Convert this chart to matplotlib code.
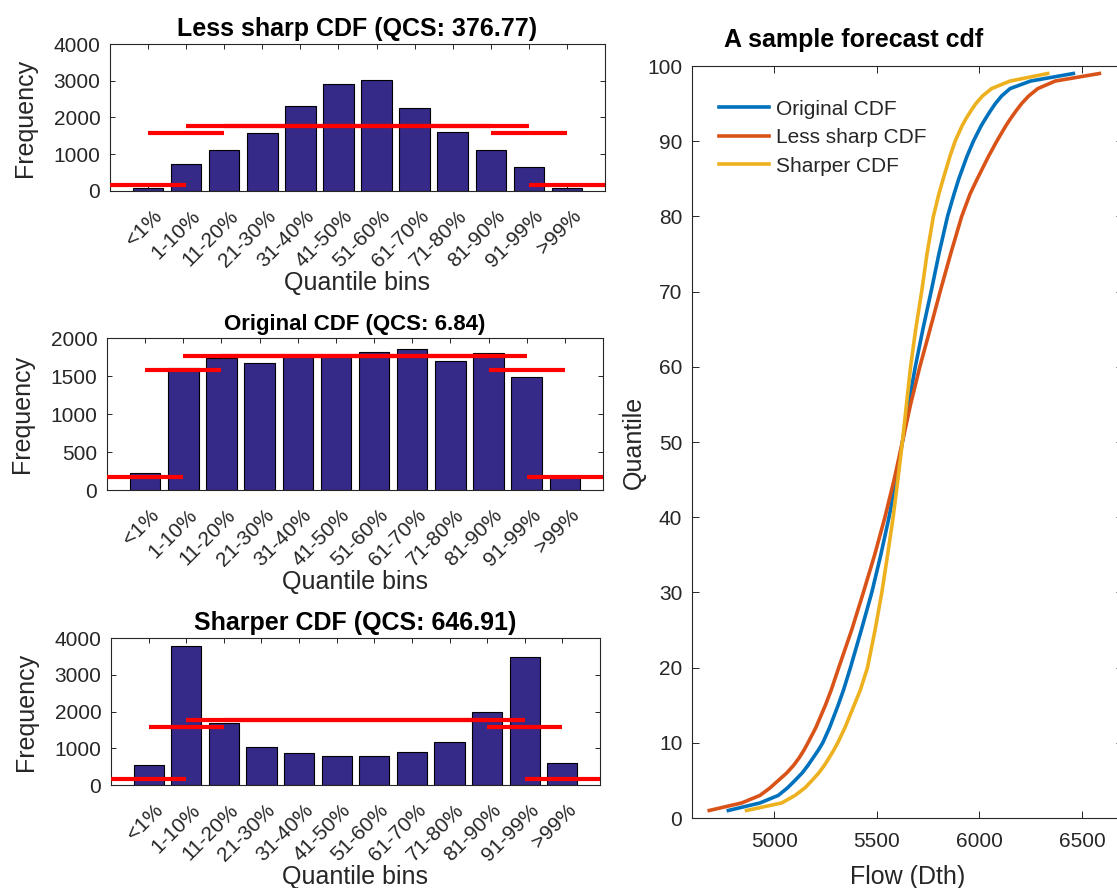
import numpy as np
import matplotlib
matplotlib.use('Agg')
import matplotlib.pyplot as plt
import matplotlib.transforms as mtransforms

plt.rcParams['font.family'] = ['Liberation Sans', 'DejaVu Sans']
plt.rcParams['text.color'] = '#262626'
plt.rcParams['axes.labelcolor'] = '#262626'

# ---- data ----
bins = ['<1%', '1-10%', '11-20%', '21-30%', '31-40%', '41-50%',
        '51-60%', '61-70%', '71-80%', '81-90%', '91-99%', '>99%']
less_sharp = [95, 740, 1120, 1590, 2325, 2920, 3020, 2260, 1610, 1120, 660, 90]
original = [223, 1610, 1740, 1672, 1750, 1745, 1812, 1860, 1694, 1799, 1492, 168]
sharper = [535, 3773, 1700, 1043, 862, 798, 780, 889, 1179, 1995, 3474, 608]
expected = [176, 1581, 1757, 1757, 1757, 1757, 1757, 1757, 1757, 1757, 1581, 176]

quantiles = [1, 2, 3, 4, 5, 6, 7, 8, 9, 10, 12, 15, 17, 20, 25, 30, 35, 40, 45, 50,
             55, 60, 65, 70, 75, 80, 83, 85, 88, 90, 92, 93, 94, 95, 96, 97, 98, 99]
flow_original = [4777, 4931, 5020, 5065, 5102, 5137, 5165, 5190, 5215, 5237, 5270, 5312, 5338, 5372,
                 5425, 5476, 5520, 5560, 5595, 5625, 5655, 5688, 5725, 5765, 5803, 5845, 5877, 5900,
                 5940, 5971, 6008, 6030, 6053, 6078, 6108, 6150, 6250, 6458]
flow_less = [4684, 4842, 4931, 4980, 5021, 5062, 5095, 5122, 5145, 5165, 5203, 5250, 5278, 5315,
             5378, 5435, 5490, 5540, 5585, 5625, 5665, 5710, 5760, 5809, 5860, 5914, 5955, 5990,
             6045, 6085, 6128, 6152, 6178, 6206, 6240, 6285, 6370, 6585]
flow_sharper = [4866, 5037, 5102, 5150, 5185, 5218, 5245, 5268, 5290, 5310, 5345, 5390, 5420, 5455,
                5492, 5525, 5553, 5580, 5603, 5625, 5645, 5665, 5690, 5719, 5745, 5776, 5803, 5824,
                5857, 5882, 5915, 5935, 5958, 5983, 6015, 6060, 6150, 6333]

W, H = 1117, 888
fig = plt.figure(figsize=(W / 100, H / 100), dpi=100)


def rect(l, t, r, b):
    return [l / W, 1 - b / H, (r - l) / W, (b - t) / H]


bar_color = '#352a87'
gray = '#262626'
pos = np.arange(1, len(bins) + 1)


def bar_panel(r, counts, title, ymax, ystep, tsize):
    ax = fig.add_axes(r)
    ax.bar(pos, counts, width=0.8, color=bar_color, edgecolor='black', linewidth=0.8, zorder=2)
    ax.hlines(expected, pos - 1, pos + 1, colors='#ff0000', linewidth=3, zorder=3)
    ax.set_xlim(0, 13)
    ax.set_ylim(0, ymax)
    ax.set_yticks(np.arange(0, ymax + 1, ystep))
    ax.set_xticks(pos)
    ax.set_xticklabels(bins, rotation=45, ha='right', va='center', rotation_mode='anchor')
    ax.tick_params(direction='in', length=3.5, width=0.7, labelsize=15, colors=gray,
                   top=True, right=True, pad=7)
    ax.tick_params(axis='x', pad=16)
    off = mtransforms.ScaledTranslation(11 / 100, 0, fig.dpi_scale_trans)
    for lab in ax.get_xticklabels():
        lab.set_transform(lab.get_transform() + off)
    for s in ax.spines.values():
        s.set_color(gray)
        s.set_linewidth(0.8)
    ax.set_ylabel('Frequency', fontsize=18, labelpad=12)
    ax.set_xlabel('Quantile bins', fontsize=18, labelpad=0)
    ax.set_title(title, fontsize=tsize, fontweight='bold', color='black', pad=6)
    return ax


bar_panel(rect(110, 44, 605, 191), less_sharp, 'Less sharp CDF (QCS: 376.77)', 4000, 1000, 18)
bar_panel(rect(107, 338, 603, 490), original, 'Original CDF (QCS: 6.84)', 2000, 500, 16)
bar_panel(rect(111, 638, 600, 785), sharper, 'Sharper CDF (QCS: 646.91)', 4000, 1000, 18)

ax = fig.add_axes(rect(692, 66, 1123, 818))
ax.plot(flow_original, quantiles, color='#0072bd', linewidth=2.6, label='Original CDF')
ax.plot(flow_less, quantiles, color='#d95319', linewidth=2.6, label='Less sharp CDF')
ax.plot(flow_sharper, quantiles, color='#edb120', linewidth=2.6, label='Sharper CDF')
ax.set_xlim(4600, 6700)
ax.set_ylim(0, 100)
ax.set_xticks([5000, 5500, 6000, 6500])
ax.set_yticks(np.arange(0, 101, 10))
ax.tick_params(direction='in', length=5, width=0.7, labelsize=15, colors=gray,
               top=True, right=True, pad=7)
ax.tick_params(axis='x', pad=10)
for s in ax.spines.values():
    s.set_color(gray)
    s.set_linewidth(0.8)
ax.set_xlabel('Flow (Dth)', fontsize=18, labelpad=10)
ax.set_ylabel('Quantile', fontsize=18, labelpad=1)
ax.set_title('A sample forecast cdf', fontsize=18, fontweight='bold', color='black',
             x=0.374, pad=14)
ax.legend(loc='upper left', frameon=False, fontsize=15, handlelength=2.4,
          handletextpad=0.3, labelspacing=0.45, bbox_to_anchor=(0.02, 0.98))

fig.savefig('out.png', dpi=100)
